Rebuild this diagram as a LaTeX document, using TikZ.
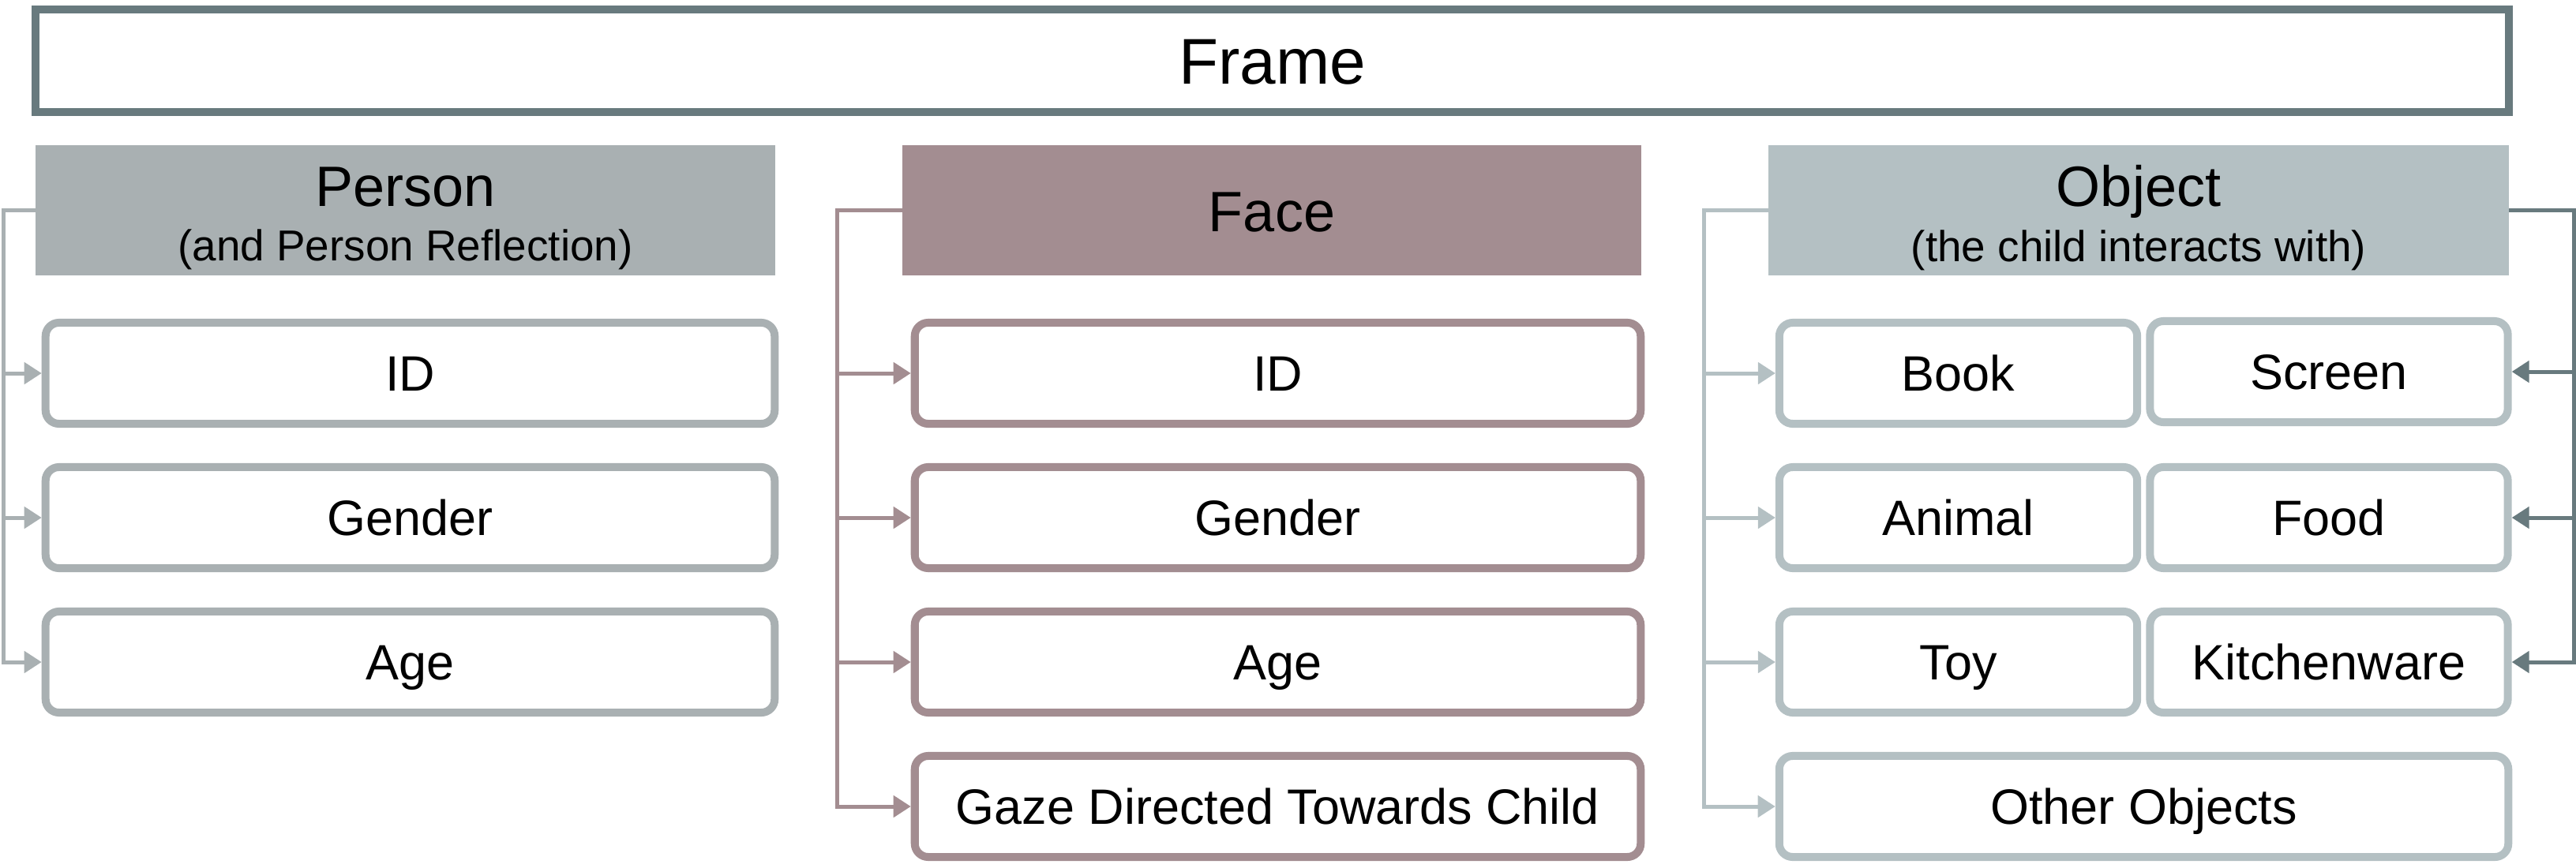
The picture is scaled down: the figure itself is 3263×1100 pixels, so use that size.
\documentclass[tikz,border=0pt]{standalone}
\usepackage{fontspec}
\setmainfont{Liberation Sans}
\usetikzlibrary{arrows.meta}

\definecolor{frameclr}{HTML}{687A7E}
\definecolor{personclr}{HTML}{A9B0B2}
\definecolor{faceclr}{HTML}{A38D91}
\definecolor{objclr}{HTML}{B4C0C3}

\begin{document}
\begin{tikzpicture}[x=0.01cm, y=-0.01cm,
  framebox/.style={draw=frameclr, line width=1mm, inner sep=0pt,
    minimum width=31.31cm, minimum height=1.30cm,
    text height=16.7pt, text depth=0pt, font=\fontsize{23.3}{28}\selectfont},
  hdrbox/.style={inner sep=0pt, outer sep=0pt, minimum width=9.37cm, minimum height=1.65cm},
  hdrtitle/.style={anchor=base, font=\fontsize{20.5}{24}\selectfont},
  hdrsub/.style={anchor=base, font=\fontsize{15.6}{19}\selectfont},
  itembox/.style={draw, fill=white, line width=1mm, rounded corners=1.7mm,
    inner sep=0pt, minimum height=1.28cm,
    text height=12.8pt, text depth=0pt, font=\fontsize{17.9}{21}\selectfont},
  wide/.style={minimum width=9.23cm},
  half/.style={minimum width=4.53cm},
  link/.style={line width=0.05cm},
  tip/.style={-{Triangle[length=0.22cm, width=0.27cm]}}
]
\useasboundingbox (0,0) rectangle (3263,1100);

% top level
\node[framebox] (frame) at (1611.5,77) {Frame};

% category headers
\node[hdrbox, fill=personclr] (ph) at (513.5,266.5) {};
\node[hdrtitle] (phtitle) at (513.5,261) {Person};
\node[hdrsub] (phsub) at (513.5,330) {(and Person Reflection)};

\node[hdrbox, fill=faceclr, minimum width=9.36cm] (fh) at (1611,266.5) {};
\node[hdrtitle] (fhtitle) at (1611,293) {Face};

\node[hdrbox, fill=objclr, minimum width=9.38cm] (oh) at (2709,266.5) {};
\node[hdrtitle] (ohtitle) at (2709,261) {Object};
\node[hdrsub] (ohsub) at (2709,331) {(the child interacts with)};

% person attributes
\node[itembox, wide, draw=personclr] (pid) at (519.5,473) {ID};
\node[itembox, wide, draw=personclr] (pgender) at (519.5,656) {Gender};
\node[itembox, wide, draw=personclr] (page) at (519.5,839) {Age};

% face attributes
\node[itembox, wide, minimum width=9.19cm, draw=faceclr] (fid) at (1618.5,473) {ID};
\node[itembox, wide, minimum width=9.19cm, draw=faceclr] (fgender) at (1618.5,656) {Gender};
\node[itembox, wide, minimum width=9.19cm, draw=faceclr] (fage) at (1618.5,839) {Age};
\node[itembox, wide, minimum width=9.19cm, draw=faceclr] (fgaze) at (1618.5,1022) {Gaze Directed Towards Child};

% object classes
\node[itembox, half, draw=objclr] (book) at (2480.5,473) {Book};
\node[itembox, half, draw=objclr] (screen) at (2950,471) {Screen};
\node[itembox, half, draw=objclr] (animal) at (2480.5,656) {Animal};
\node[itembox, half, draw=objclr] (food) at (2950,656) {Food};
\node[itembox, half, draw=objclr] (toy) at (2480.5,839) {Toy};
\node[itembox, half, draw=objclr] (kitchen) at (2950,839) {Kitchenware};
\node[itembox, wide, draw=objclr] (other) at (2715.5,1022) {Other Objects};

% bus lines
\coordinate (pbus) at (4.5,266.5);
\coordinate (fbus) at (1060.5,266.5);
\coordinate (olbus) at (2158.5,266.5);
\coordinate (orbus) at (3260,266.5);

\draw[link, personclr, tip] (ph.west) -- (pbus) |- (page.west);
\draw[link, personclr, tip] (pbus |- pid.west) -- (pid.west);
\draw[link, personclr, tip] (pbus |- pgender.west) -- (pgender.west);

\draw[link, faceclr, tip] (fh.west) -- (fbus) |- (fgaze.west);
\draw[link, faceclr, tip] (fbus |- fid.west) -- (fid.west);
\draw[link, faceclr, tip] (fbus |- fgender.west) -- (fgender.west);
\draw[link, faceclr, tip] (fbus |- fage.west) -- (fage.west);

\draw[link, objclr, tip] (oh.west) -- (olbus) |- (other.west);
\draw[link, objclr, tip] (olbus |- book.west) -- (book.west);
\draw[link, objclr, tip] (olbus |- animal.west) -- (animal.west);
\draw[link, objclr, tip] (olbus |- toy.west) -- (toy.west);

\draw[link, frameclr, tip] (oh.east) -- (orbus) |- (kitchen.east);
\draw[link, frameclr, tip] (orbus |- screen.east) -- (screen.east);
\draw[link, frameclr, tip] (orbus |- food.east) -- (food.east);
\end{tikzpicture}
\end{document}
